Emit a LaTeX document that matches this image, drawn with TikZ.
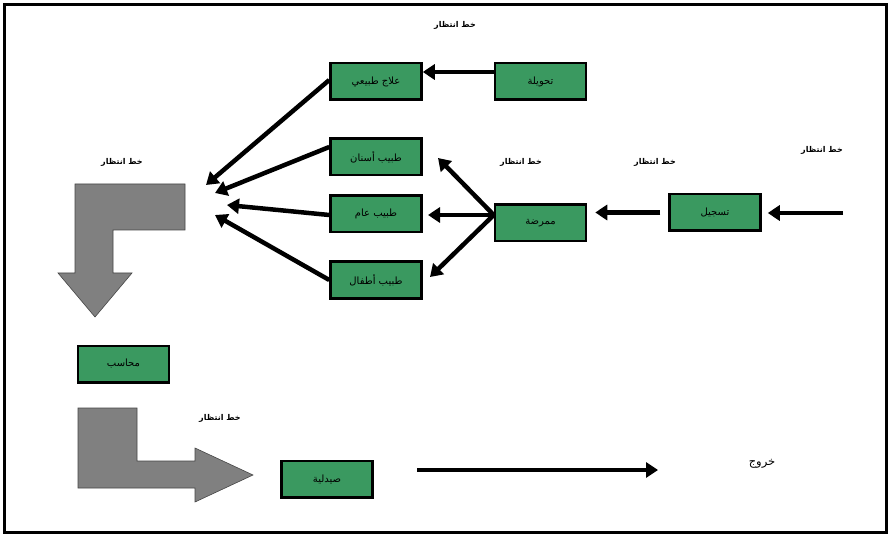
\documentclass[tikz,border=0pt]{standalone}
\usepackage{fontspec}
\usetikzlibrary{arrows.meta}
\TeXXeTstate=1
\newfontfamily\arabicfont[Script=Arabic]{DejaVu Sans}
\definecolor{boxgreen}{RGB}{58,153,96}
\definecolor{arrowgray}{RGB}{128,128,128}
\definecolor{edgegray}{RGB}{70,70,70}
\newcommand{\artxt}[1]{\beginR #1\endR}
\begin{document}
\begin{tikzpicture}[x=1pt,y=-1pt,
  box/.style={draw=black, line width=2.5pt, fill=boxgreen, minimum width=91pt, minimum height=36.5pt, inner sep=0pt, font=\arabicfont\fontsize{10}{11}\selectfont},
  lbl/.style={inner sep=0pt, font=\arabicfont\bfseries\fontsize{8}{9}\selectfont},
  flow/.style={line width=4.5pt, -{Triangle[length=12pt,width=15pt]}},
  bent/.style={fill=arrowgray, draw=edgegray, line width=0.6pt}]
\useasboundingbox (0,0) rectangle (891,537);
\fill[white] (0,0) rectangle (891,537);
\draw[line width=3pt] (4.5,4.5) rectangle (886.5,532.5);

% boxes
\node[box] (tp) at (540.5,81.5) {\artxt{تحويلة}};
\node[box] (ph) at (376,81.5) {\artxt{علاج طبيعي}};
\node[box] (dn) at (376,157) {\artxt{طبيب أسنان}};
\node[box] (gp) at (376,214) {\artxt{طبيب عام}};
\node[box] (pd) at (376,280) {\artxt{طبيب أطفال}};
\node[box] (nr) at (540.5,223) {\artxt{ممرضة}};
\node[box] (rg) at (715,212.5) {\artxt{تسجيل}};
\node[box] (cs) at (123.5,364) {\artxt{محاسب}};
\node[box] (phm) at (327,479) {\artxt{صيدلية}};

% labels
\node[lbl] (l1) at (455,25) {\artxt{خط انتظار}};
\node[lbl] (l2) at (521,162) {\artxt{خط انتظار}};
\node[lbl] (l3) at (655,162) {\artxt{خط انتظار}};
\node[lbl] (l4) at (822,150) {\artxt{خط انتظار}};
\node[lbl] (l5) at (122,162) {\artxt{خط انتظار}};
\node[lbl] (l6) at (220,418) {\artxt{خط انتظار}};
\node[inner sep=0pt, font=\arabicfont\fontsize{11.5}{12}\selectfont] (ex) at (762,464) {\artxt{خروج}};

% free ends
\coordinate (c1) at (206,185);
\coordinate (c2) at (215,193);
\coordinate (c3) at (227,205);
\coordinate (c4) at (215,215);
\coordinate (d1) at (438,158);
\coordinate (d2) at (428,215);
\coordinate (d3) at (430,277);
\coordinate (in) at (843,213);
\coordinate (e1) at (417,470);
\coordinate (e2) at (658,470);

% connectors
\draw[flow] ([yshift=9.5pt]tp.west) -- ([yshift=9.5pt]ph.east);
\draw[flow] ([yshift=1.5pt]ph.west) -- (c1);
\draw[flow] ([yshift=10pt]dn.west) -- (c2);
\draw[flow] ([yshift=-1pt]gp.west) -- (c3);
\draw[flow] (pd.west) -- (c4);
\draw[flow] ([yshift=8pt]nr.west) -- (d1);
\draw[flow] ([yshift=8pt]nr.west) -- (d2);
\draw[flow] ([yshift=8pt]nr.west) -- (d3);
\draw[flow, shorten <=8pt, shorten >=8pt] (rg.west) -- (rg.west -| nr.east);
\draw[flow, shorten >=6pt] (in) -- (in -| rg.east);
\draw[flow] (e1) -- (e2);

% gray bent arrows
\draw[bent] (75,184) -- (185,184) -- (185,230) -- (113,230) -- (113,273) -- (132,273)
  -- (95,317) -- (58,273) -- (75,273) -- cycle;
\draw[bent] (78,408) -- (137,408) -- (137,461) -- (195,461) -- (195,448) -- (253,475)
  -- (195,502) -- (195,488) -- (78,488) -- cycle;
\end{tikzpicture}
\end{document}
